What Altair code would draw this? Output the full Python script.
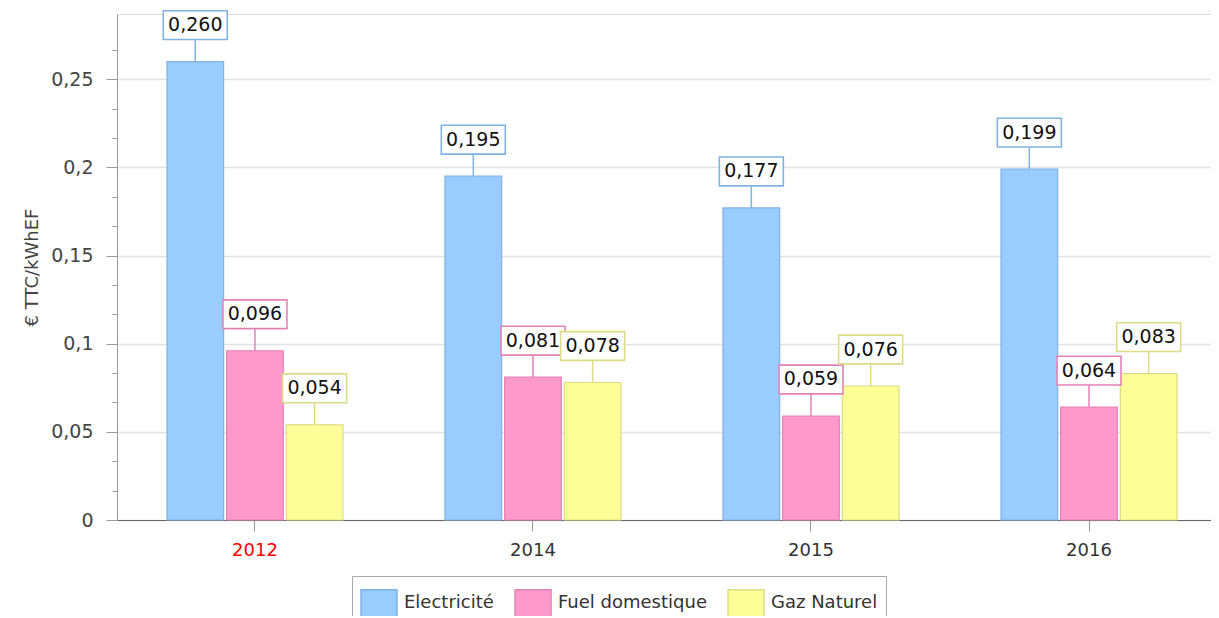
import altair as alt
import pandas as pd

years = ["2012", "2014", "2015", "2016"]
series = ["Electricité", "Fuel domestique", "Gaz Naturel"]
electricite = [0.260, 0.195, 0.177, 0.199]
fuel_domestique = [0.096, 0.081, 0.059, 0.064]
gaz_naturel = [0.054, 0.078, 0.076, 0.083]

y_major_ticks = [0, 0.05, 0.1, 0.15, 0.2, 0.25]
y_minor_ticks = [k * 0.05 / 3 for k in range(17) if k % 3 != 0]

fill_colors = ["#99ccff", "#ff99cc", "#ffff99"]
stroke_colors = ["#80b2e4", "#e283b6", "#dcdc86"]

rows = []
for s, vals in zip(series, [electricite, fuel_domestique, gaz_naturel]):
    for yr, v in zip(years, vals):
        rows.append({"year": yr, "serie": s, "value": v})
df = pd.DataFrame(rows)

FONT = "DejaVu Sans"
ydomain = [0, 0.287]

x_enc = alt.X(
    "year:N", sort=years, title=None,
    scale=alt.Scale(paddingInner=0.367, paddingOuter=0.151, align=0.595),
    axis=alt.Axis(labelAngle=0, labelFontSize=18, labelFont=FONT,
                  labelColor={"expr": "datum.value == '2012' ? '#ff0000' : '#333333'"},
                  tickSize=11, tickColor="#999999", domainColor="#666666",
                  labelPadding=10, grid=False),
)
xo_enc = alt.XOffset("serie:N", sort=series,
                     scale=alt.Scale(paddingInner=0.05, paddingOuter=0))
fill_enc = alt.Fill("serie:N", sort=series, title=None,
                    scale=alt.Scale(domain=series, range=fill_colors))
stroke_enc = alt.Stroke("serie:N", sort=series, title=None,
                        scale=alt.Scale(domain=series, range=stroke_colors))

base = alt.Chart(df).transform_calculate(
    label="replace(format(datum.value, '.3f'), '.', ',')"
)

bars = base.mark_bar(strokeWidth=1.2).encode(
    x=x_enc,
    xOffset=xo_enc,
    y=alt.Y("value:Q", title="€ TTC/kWhEF",
            scale=alt.Scale(domain=ydomain, nice=False),
            axis=alt.Axis(orient="left", values=y_major_ticks,
                          labelExpr="replace(format(datum.value, '~g'), '.', ',')",
                          tickSize=11, tickColor="#999999", domainColor="#999999",
                          grid=True, gridColor="#e2e2e2", gridWidth=1.5,
                          labelFontSize=19, labelFont=FONT, labelColor="#444444",
                          labelPadding=13, titleFontSize=18, titleFont=FONT,
                          titleFontWeight="normal", titleColor="#444444",
                          titlePadding=9)),
    fill=fill_enc,
    stroke=stroke_enc,
)

rules = base.mark_rule(strokeWidth=1.5, y2Offset=-22).encode(
    x=alt.X("year:N", sort=years),
    xOffset=xo_enc,
    y=alt.Y("value:Q", title=None, scale=alt.Scale(domain=ydomain, nice=False),
            axis=alt.Axis(orient="left", values=y_minor_ticks, tickSize=5,
                          tickColor="#999999", labels=False, domain=False,
                          grid=False)),
    y2=alt.Y2("value:Q"),
    stroke=stroke_enc,
)

box_path = "M-1,-0.45L1,-0.45L1,0.45L-1,0.45Z"
boxes = base.mark_point(shape=box_path, size=64 * 64, fill="white", filled=False,
                        opacity=1, fillOpacity=1, strokeWidth=1.6,
                        yOffset=-36.5).encode(
    x=alt.X("year:N", sort=years),
    xOffset=xo_enc,
    y=alt.Y("value:Q", scale=alt.Scale(domain=ydomain, nice=False), axis=None),
    stroke=stroke_enc,
)

texts = base.mark_text(fontSize=19, font=FONT, color="#111111",
                       baseline="middle", align="center",
                       yOffset=-36.5).encode(
    x=alt.X("year:N", sort=years),
    xOffset=xo_enc,
    y=alt.Y("value:Q", scale=alt.Scale(domain=ydomain, nice=False), axis=None),
    text="label:N",
)

legend_symbol = "M-1,-0.75L1,-0.75L1,0.75L-1,0.75Z"

chart = alt.layer(bars, rules, boxes, texts).resolve_axis(
    y="independent"
).properties(
    width=1094, height=506,
    autosize=alt.AutoSizeParams(type="none"),
    padding={"left": 109, "top": 6, "right": 0, "bottom": 96},
).configure_view(
    stroke="#dddddd"
).configure_legend(
    orient="none", legendX=235, legendY=562, direction="horizontal",
    strokeColor="#aaaaaa", fillColor="white", padding=8,
    symbolType=legend_symbol, symbolSize=1296, symbolStrokeWidth=1.5,
    labelFontSize=18, labelFont=FONT, labelColor="#333333",
    labelOffset=6, columnPadding=18, titleFontSize=0,
)

chart.save("out.html", embed_options={"renderer": "svg", "actions": False})
